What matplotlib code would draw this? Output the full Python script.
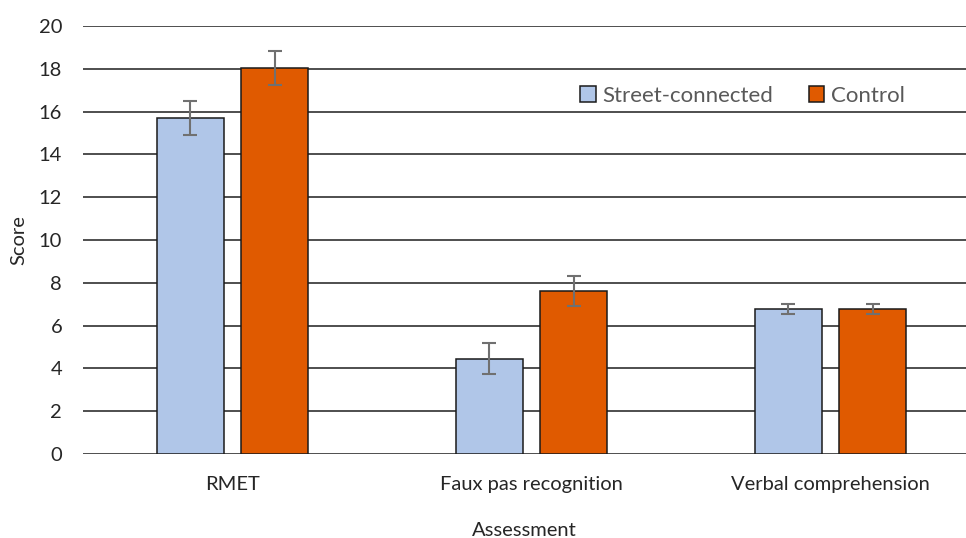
import matplotlib
matplotlib.use("Agg")
import matplotlib.pyplot as plt
import numpy as np

categories = ["RMET", "Faux pas recognition", "Verbal comprehension"]
series_names = ["Street-connected", "Control"]
street_connected = [15.7, 4.45, 6.78]
street_err = [0.78, 0.72, 0.25]
control = [18.05, 7.62, 6.78]
control_err = [0.8, 0.72, 0.25]
yticks = [0, 2, 4, 6, 8, 10, 12, 14, 16, 18, 20]

plt.rcParams['font.family'] = ['Lato', 'DejaVu Sans']

W, H = 966, 538
fig = plt.figure(figsize=(W/100, H/100), dpi=100)
ax = fig.add_axes([83/W, 84/H, (W-83)/W, 428/H])

x = np.arange(len(categories))
bw = 0.224
off = 0.142
grid_c = '#404040'
for yv in yticks:
    ax.axhline(yv, color=grid_c, lw=1.3, zorder=0)

ax.bar(x - off, street_connected, bw, color='#B0C6E8', edgecolor='#1a1a1a', lw=1.1,
       yerr=street_err, error_kw=dict(ecolor='#707070', elinewidth=1.5, capsize=5, capthick=1.5),
       label=series_names[0], zorder=2)
ax.bar(x + off, control, bw, color='#E05A00', edgecolor='#1a1a1a', lw=1.1,
       yerr=control_err, error_kw=dict(ecolor='#707070', elinewidth=1.5, capsize=5, capthick=1.5),
       label=series_names[1], zorder=2)

ax.set_xlim(-0.5, -0.5 + (W-83)/299)
ax.set_ylim(0, 20)
ax.set_yticks(yticks)
ax.set_xticks(x)
ax.set_xticklabels(categories)
ax.tick_params(axis='both', length=0, labelsize=14.5, colors='#262626')
ax.tick_params(axis='y', pad=15)
ax.tick_params(axis='x', pad=16)
for s in ax.spines.values():
    s.set_visible(False)

ax.set_ylabel("Score", fontsize=14.5, color='#262626', labelpad=8)
ax.set_xlabel("Assessment", fontsize=14.5, color='#262626', labelpad=21)

leg = ax.legend(loc='upper left', bbox_to_anchor=((560-83)/(W-83), (454-66)/428),
                ncol=2, frameon=False, fontsize=16, handlelength=0.7, handleheight=0.7,
                handletextpad=0.3, columnspacing=1.6, labelcolor='#595959')
fig.savefig("out.png", dpi=100)
